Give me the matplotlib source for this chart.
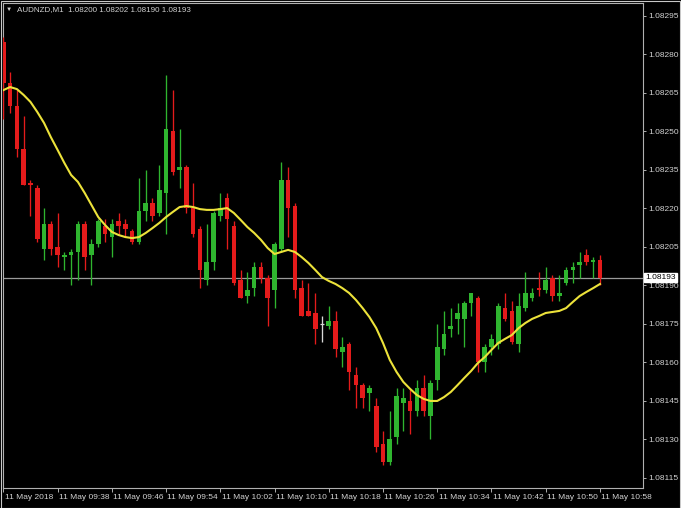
import matplotlib
matplotlib.use("Agg")
import matplotlib.pyplot as plt
from matplotlib.patches import Rectangle

symbol = "AUDNZD,M1"
header_values = ["1.08200", "1.08202", "1.08190", "1.08193"]

opens = [1.08285, 1.08269, 1.08260, 1.08243, 1.08230, 1.08228, 1.08204, 1.08214, 1.08205, 1.08201,
         1.08202, 1.08203, 1.08214, 1.08202, 1.08206, 1.08213, 1.08209, 1.08215, 1.08214, 1.08211,
         1.08207, 1.08219, 1.08222, 1.08218, 1.08226, 1.08250, 1.08235, 1.08236, 1.08220, 1.08212,
         1.08192, 1.08199, 1.08217, 1.08224, 1.08213, 1.08192, 1.08186, 1.08189, 1.08197, 1.08193,
         1.08188, 1.08204, 1.08231, 1.08221, 1.08189, 1.08180, 1.08179, 1.08175, 1.08174, 1.08176,
         1.08164, 1.08167, 1.08155, 1.08151, 1.08148, 1.08143, 1.08128, 1.08121, 1.08131, 1.08144,
         1.08145, 1.08141, 1.08150, 1.08139, 1.08153, 1.08165, 1.08173, 1.08177, 1.08177, 1.08183,
         1.08185, 1.08160, 1.08166, 1.08167, 1.08181, 1.08180, 1.08167, 1.08181, 1.08185, 1.08189,
         1.08188, 1.08193, 1.08186, 1.08191, 1.08196, 1.08198, 1.08202, 1.08199, 1.08200]

highs = [1.08287, 1.08273, 1.08266, 1.08256, 1.08231, 1.08229, 1.08220, 1.08215, 1.08218, 1.08203,
         1.08204, 1.08215, 1.08215, 1.08208, 1.08216, 1.08216, 1.08216, 1.08218, 1.08216, 1.08212,
         1.08232, 1.08235, 1.08224, 1.08237, 1.08272, 1.08266, 1.08251, 1.08237, 1.08230, 1.08213,
         1.08214, 1.08219, 1.08226, 1.08226, 1.08215, 1.08196, 1.08195, 1.08199, 1.08199, 1.08194,
         1.08207, 1.08238, 1.08236, 1.08222, 1.08192, 1.08191, 1.08187, 1.08178, 1.08182, 1.08180,
         1.08170, 1.08168, 1.08158, 1.08152, 1.08151, 1.08146, 1.08133, 1.08141, 1.08150, 1.08150,
         1.08150, 1.08153, 1.08155, 1.08153, 1.08175, 1.08180, 1.08181, 1.08183, 1.08184, 1.08187,
         1.08186, 1.08167, 1.08171, 1.08183, 1.08187, 1.08184, 1.08187, 1.08195, 1.08189, 1.08195,
         1.08197, 1.08194, 1.08194, 1.08197, 1.08199, 1.08203, 1.08204, 1.08201, 1.08202]

lows = [1.08255, 1.08257, 1.08240, 1.08229, 1.08217, 1.08207, 1.08200, 1.08202, 1.08197, 1.08196,
        1.08190, 1.08192, 1.08196, 1.08190, 1.08205, 1.08207, 1.08201, 1.08210, 1.08209, 1.08206,
        1.08206, 1.08215, 1.08215, 1.08217, 1.08210, 1.08233, 1.08228, 1.08218, 1.08209, 1.08189,
        1.08190, 1.08196, 1.08215, 1.08204, 1.08190, 1.08185, 1.08183, 1.08186, 1.08191, 1.08174,
        1.08181, 1.08203, 1.08209, 1.08185, 1.08178, 1.08178, 1.08167, 1.08168, 1.08173, 1.08162,
        1.08158, 1.08149, 1.08142, 1.08142, 1.08141, 1.08125, 1.08120, 1.08120, 1.08128, 1.08133,
        1.08132, 1.08139, 1.08139, 1.08130, 1.08149, 1.08163, 1.08170, 1.08171, 1.08166, 1.08178,
        1.08156, 1.08156, 1.08163, 1.08165, 1.08176, 1.08167, 1.08164, 1.08180, 1.08184, 1.08186,
        1.08187, 1.08184, 1.08184, 1.08190, 1.08191, 1.08193, 1.08198, 1.08193, 1.08190]

closes = [1.08269, 1.08260, 1.08243, 1.08229, 1.08229, 1.08208, 1.08214, 1.08204, 1.08202, 1.08202,
          1.08203, 1.08214, 1.08201, 1.08206, 1.08215, 1.08210, 1.08214, 1.08213, 1.08212, 1.08207,
          1.08219, 1.08222, 1.08217, 1.08227, 1.08251, 1.08234, 1.08236, 1.08220, 1.08210, 1.08196,
          1.08199, 1.08218, 1.08220, 1.08216, 1.08191, 1.08185, 1.08188, 1.08197, 1.08193, 1.08185,
          1.08206, 1.08231, 1.08220, 1.08188, 1.08178, 1.08178, 1.08173, 1.08175, 1.08176, 1.08165,
          1.08166, 1.08156, 1.08151, 1.08146, 1.08150, 1.08127, 1.08121, 1.08130, 1.08147, 1.08146,
          1.08141, 1.08150, 1.08141, 1.08152, 1.08166, 1.08171, 1.08174, 1.08179, 1.08183, 1.08187,
          1.08160, 1.08166, 1.08169, 1.08182, 1.08177, 1.08168, 1.08182, 1.08187, 1.08187, 1.08188,
          1.08192, 1.08186, 1.08187, 1.08196, 1.08197, 1.08199, 1.08199, 1.08200, 1.08193]

ma_values = [1.082661, 1.082673, 1.082665, 1.082642, 1.082615, 1.082576, 1.082533, 1.082478, 1.082428, 1.082377,
             1.082330, 1.082303, 1.082260, 1.082213, 1.082166, 1.082135, 1.082108, 1.082096, 1.082088, 1.082084,
             1.082088, 1.082104, 1.082123, 1.082143, 1.082166, 1.082186, 1.082205, 1.082209, 1.082205, 1.082197,
             1.082194, 1.082194, 1.082197, 1.082201, 1.082182, 1.082155, 1.082127, 1.082104, 1.082077, 1.082045,
             1.082022, 1.082030, 1.082038, 1.082030, 1.082010, 1.081987, 1.081960, 1.081932, 1.081917, 1.081905,
             1.081889, 1.081870, 1.081843, 1.081811, 1.081776, 1.081733, 1.081675, 1.081609, 1.081562, 1.081523,
             1.081496, 1.081472, 1.081457, 1.081449, 1.081449, 1.081464, 1.081484, 1.081511, 1.081539, 1.081566,
             1.081597, 1.081620, 1.081648, 1.081675, 1.081691, 1.081706, 1.081733, 1.081753, 1.081769, 1.081780,
             1.081792, 1.081796, 1.081800, 1.081811, 1.081835, 1.081858, 1.081874, 1.081889, 1.081905]

time_label_bars = [0, 8, 16, 24, 32, 40, 48, 56, 64, 72, 80, 88]
time_labels = ["11 May 2018", "11 May 09:38", "11 May 09:46", "11 May 09:54", "11 May 10:02",
               "11 May 10:10", "11 May 10:18", "11 May 10:26", "11 May 10:34", "11 May 10:42",
               "11 May 10:50", "11 May 10:58"]
price_ticks = [1.08115, 1.08130, 1.08145, 1.08160, 1.08175, 1.08190, 1.08205,
               1.08220, 1.08235, 1.08250, 1.08265, 1.08280, 1.08295]
current_price = 1.08193

BG = "black"
FG = "#d2d2d2"
BULL = "#2fb52f"
BEAR = "#e41b1b"
DOJI = "#d8d8d8"
MA_COLOR = "#ece23a"
FONT = ["Liberation Sans", "DejaVu Sans"]

W, H = 681, 508
fig = plt.figure(figsize=(W / 100, H / 100), dpi=100, facecolor=BG)
ax = fig.add_axes([3 / W, 1 - 488 / H, 640 / W, 485.5 / H], facecolor=BG)

x = list(range(len(opens)))
body_w = 0.68
for i in x:
    o, h, l, c = opens[i], highs[i], lows[i], closes[i]
    if c > o:
        col = BULL
    elif c < o:
        col = BEAR
    else:
        col = DOJI
    ax.vlines(i, l, h, color=col, linewidth=0.95, zorder=3)
    if c != o:
        ax.bar(i, abs(c - o), bottom=min(o, c), width=body_w, color=col,
               linewidth=0, zorder=4)
    else:
        ax.hlines(o, i - body_w / 2, i + body_w / 2, color=col, linewidth=0.9, zorder=4)

ax.plot(x, ma_values, color=MA_COLOR, linewidth=1.5, zorder=5, solid_joinstyle="round")
ax.axhline(current_price, color="#9a9a9a", linewidth=0.9, zorder=2)

ax.set_xlim(-0.05, 94.35)
ax.set_ylim(1.0811096, 1.0830026)

for s in ax.spines.values():
    s.set_color("#b0b0b0")
    s.set_linewidth(0.8)

ax.yaxis.tick_right()
ax.set_yticks(price_ticks)
ax.set_yticklabels([f"{p:.5f}" for p in price_ticks])
ax.tick_params(axis="y", direction="out", length=2.5, width=0.7, pad=1.5,
               colors="#b0b0b0", labelcolor=FG, labelsize=6)
for t in ax.get_yticklabels():
    t.set_family(FONT)

ax.set_xticks(time_label_bars)
ax.set_xticklabels([""] * len(time_label_bars))
ax.tick_params(axis="x", direction="out", length=3, width=0.7, colors="#b0b0b0")
for b, lab in zip(time_label_bars, time_labels):
    ax.annotate(lab, xy=(b, 0), xycoords=("data", "axes fraction"),
                xytext=(1.0, -6.8), textcoords="offset points",
                ha="left", va="center", color=FG, fontsize=6, family=FONT,
                annotation_clip=False)

# current price marker on the price scale
ax.annotate(f"{current_price:.5f}", xy=(1, current_price), xycoords=("axes fraction", "data"),
            xytext=(1.6, 0), textcoords="offset points", ha="left", va="center",
            fontsize=6, family=FONT, color="black", annotation_clip=False, zorder=10,
            bbox=dict(boxstyle="square,pad=0.15", facecolor="white", edgecolor="white"))

# header
fig.text(9 / W, 1 - 9.5 / H, "\u25BC", color=FG, fontsize=4.5, family=FONT,
         ha="center", va="center")
fig.text(17 / W, 1 - 9.5 / H, symbol + "  " + " ".join(header_values), color=FG,
         fontsize=5.8, family=FONT, ha="left", va="center")

# window frame
fig.patches.append(Rectangle((0.5 / W, 0.5 / H), 1 - 1.5 / W, 1 - 1.5 / H,
                             transform=fig.transFigure, fill=False,
                             edgecolor="#c8c8c8", linewidth=0.8))

fig.savefig("out.png", dpi=100, facecolor=BG)
